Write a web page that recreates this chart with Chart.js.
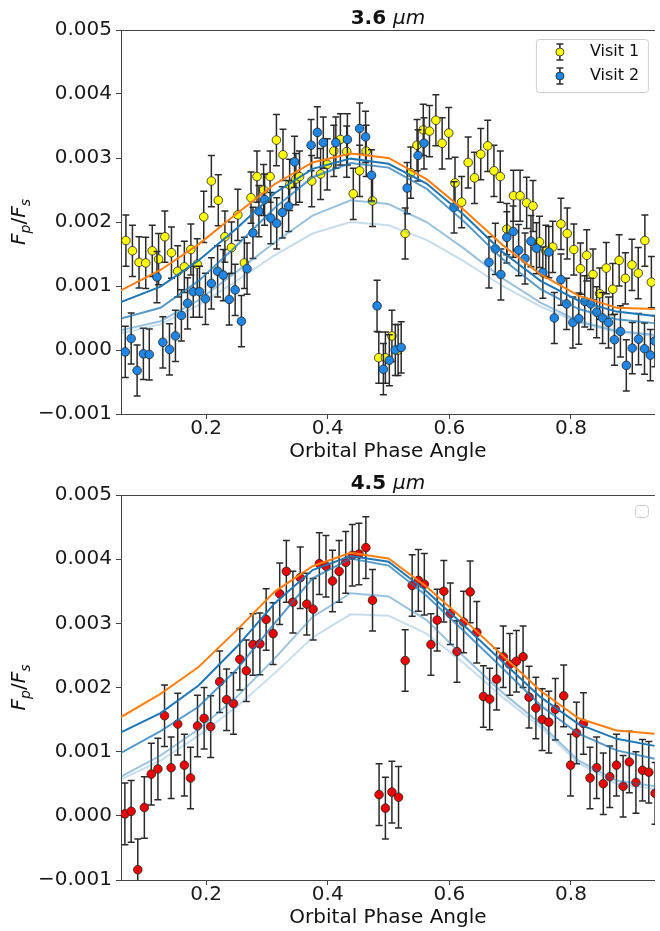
<!DOCTYPE html>
<html>
<head>
<meta charset="utf-8">
<script src="https://cdn.jsdelivr.net/npm/chart.js"></script>
<style>
  html, body { margin: 0; padding: 0; background: #fff; }
  body { width: 660px; height: 931px; overflow: hidden; }
  canvas { display: block; }
</style>
</head>
<body>
<canvas id="chart36" width="660" height="465"></canvas>
<canvas id="chart45" width="660" height="466"></canvas>
<script>
// tick values
const xTicks = [0.2, 0.4, 0.6, 0.8];
const yTicks = [-0.001, 0, 0.001, 0.002, 0.003, 0.004, 0.005];

// 3.6 um, visit 1 (yellow)
const v1Phase = [0.0681, 0.0788, 0.0897, 0.1007, 0.1114, 0.1218, 0.1321, 0.1430, 0.1533, 0.1642,
  0.1749, 0.1853, 0.1961, 0.2086, 0.2200, 0.2309, 0.2417, 0.2521, 0.2629, 0.2738,
  0.2836, 0.2945, 0.3052, 0.3156, 0.3264, 0.3373, 0.3476, 0.3536, 0.3736, 0.3882,
  0.3992, 0.4100, 0.4208, 0.4312, 0.4420, 0.4524, 0.4632, 0.4736, 0.4839, 0.4948,
  0.5055, 0.5157, 0.5273, 0.5365, 0.5468, 0.5571, 0.5673, 0.5778, 0.5881, 0.5990,
  0.6093, 0.6202, 0.6309, 0.6414, 0.6516, 0.6630, 0.6733, 0.6837, 0.6945, 0.7054,
  0.7163, 0.7271, 0.7375, 0.7482, 0.7586, 0.7700, 0.7835, 0.7938, 0.8047, 0.8156,
  0.8259, 0.8362, 0.8471, 0.8580, 0.8687, 0.8792, 0.8894, 0.9003, 0.9106, 0.9215, 0.9322];
const v1Flux = [0.00171, 0.00155, 0.00137, 0.00136, 0.00155, 0.00142, 0.00177, 0.00152, 0.00123, 0.00130,
  0.00157, 0.00134, 0.00208, 0.00264, 0.00234, 0.00177, 0.00160, 0.00211, 0.00136, 0.00238,
  0.00271, 0.00250, 0.00271, 0.00328, 0.00305, 0.00258, 0.00267, 0.00271, 0.00264, 0.00275,
  0.00290, 0.00311, 0.00329, 0.00310, 0.00244, 0.00280, 0.00311, 0.00233, -0.00012, -0.00012,
  0.00022, 0.00000, 0.00182, 0.00277, 0.00320, 0.00344, 0.00342, 0.00359, 0.00323, 0.00339,
  0.00261, 0.00231, 0.00293, 0.00269, 0.00306, 0.00319, 0.00280, 0.00271, 0.00189, 0.00241,
  0.00241, 0.00230, 0.00225, 0.00169, 0.00155, 0.00161, 0.00197, 0.00182, 0.00157, 0.00127,
  0.00148, 0.00118, 0.00088, 0.00128, 0.00095, 0.00140, 0.00112, 0.00133, 0.00120, 0.00171, 0.00106];

// 3.6 um, visit 2 (blue)
const v2Phase = [0.0670, 0.0767, 0.0865, 0.0968, 0.1065, 0.1191, 0.1288, 0.1397, 0.1495, 0.1593,
  0.1695, 0.1788, 0.1891, 0.1989, 0.2086, 0.2189, 0.2282, 0.2379, 0.2477, 0.2580,
  0.2673, 0.2770, 0.2868, 0.2961, 0.3064, 0.3161, 0.3254, 0.3357, 0.3454, 0.3726,
  0.3829, 0.3927, 0.4133, 0.4323, 0.4524, 0.4622, 0.4720, 0.4811, 0.4915, 0.5013,
  0.5111, 0.5208, 0.5306, 0.5485, 0.5583, 0.6077, 0.6651, 0.6756, 0.6847, 0.6945,
  0.7049, 0.7140, 0.7244, 0.7342, 0.7433, 0.7537, 0.7635, 0.7726, 0.7835, 0.7928,
  0.8031, 0.8129, 0.8226, 0.8324, 0.8422, 0.8520, 0.8617, 0.8715, 0.8813, 0.8910,
  0.9008, 0.9111, 0.9209, 0.9306, 0.9380];
const v2Flux = [-0.00003, 0.00018, -0.00032, -0.00006, -0.00007, 0.00114, 0.00012, 0.00001, 0.00022, 0.00054,
  0.00073, 0.00091, 0.00091, 0.00080, 0.00104, 0.00123, 0.00117, 0.00079, 0.00094, 0.00045,
  0.00127, 0.00183, 0.00217, 0.00235, 0.00206, 0.00198, 0.00215, 0.00225, 0.00294, 0.00320,
  0.00340, 0.00324, 0.00324, 0.00329, 0.00346, 0.00333, 0.00273, 0.00069, -0.00030, -0.00016,
  0.00000, 0.00004, 0.00253, 0.00304, 0.00323, 0.00223, 0.00137, 0.00158, 0.00118, 0.00176,
  0.00185, 0.00156, 0.00143, 0.00170, 0.00159, 0.00121, 0.00153, 0.00050, 0.00110, 0.00072,
  0.00043, 0.00049, 0.00076, 0.00072, 0.00059, 0.00050, 0.00043, 0.00016, 0.00029, -0.00024,
  0.00003, 0.00017, 0.00002, -0.00008, 0.00014];
const err36 = 0.0004;

// 4.5 um (red)
const redPhase = [0.0664, 0.0767, 0.0876, 0.0984, 0.1098, 0.1207, 0.1316, 0.1424, 0.1533, 0.1642,
  0.1744, 0.1858, 0.1967, 0.2075, 0.2222, 0.2336, 0.2449, 0.2554, 0.2661, 0.2770,
  0.2884, 0.2987, 0.3101, 0.3210, 0.3319, 0.3427, 0.3547, 0.3655, 0.3759, 0.3862,
  0.3971, 0.4078, 0.4187, 0.4296, 0.4404, 0.4513, 0.4627, 0.4736, 0.4844, 0.4948,
  0.5055, 0.5164, 0.5273, 0.5388, 0.5490, 0.5588, 0.5697, 0.5800, 0.5909, 0.6016,
  0.6125, 0.6234, 0.6342, 0.6451, 0.6560, 0.6663, 0.6777, 0.6886, 0.6994, 0.7103,
  0.7212, 0.7310, 0.7423, 0.7526, 0.7635, 0.7743, 0.7880, 0.7993, 0.8091, 0.8205,
  0.8313, 0.8422, 0.8531, 0.8638, 0.8748, 0.8857, 0.8959, 0.9068, 0.9176, 0.9280, 0.9383];
const redFlux = [0.00003, 0.00007, -0.00084, 0.00013, 0.00065, 0.00073, 0.00156, 0.00075, 0.00143, 0.00079,
  0.00059, 0.00140, 0.00152, 0.00139, 0.00209, 0.00181, 0.00175, 0.00244, 0.00226, 0.00267,
  0.00268, 0.00306, 0.00284, 0.00346, 0.00381, 0.00333, 0.00371, 0.00330, 0.00322, 0.00393,
  0.00389, 0.00366, 0.00381, 0.00395, 0.00406, 0.00408, 0.00418, 0.00336, 0.00033, 0.00012,
  0.00037, 0.00029, 0.00242, 0.00359, 0.00367, 0.00361, 0.00267, 0.00305, 0.00350, 0.00315,
  0.00256, 0.00302, 0.00349, 0.00286, 0.00186, 0.00182, 0.00213, 0.00248, 0.00236, 0.00241,
  0.00248, 0.00185, 0.00168, 0.00150, 0.00146, 0.00166, 0.00187, 0.00079, 0.00129, 0.00144,
  0.00059, 0.00075, 0.00050, 0.00061, 0.00079, 0.00046, 0.00084, 0.00052, 0.00071, 0.00068, 0.00035];
const err45 = 0.00048;

// model curves
const modelPhase = [0.06, 0.125, 0.1875, 0.25, 0.3125, 0.375, 0.4375, 0.5, 0.5625, 0.625, 0.6875, 0.75, 0.8125, 0.875, 0.9375];
const m36Orange = [0.00093, 0.00125, 0.00165, 0.00213, 0.00259, 0.00293, 0.00307, 0.00300, 0.00267, 0.00218, 0.00164, 0.00118, 0.00085, 0.00066, 0.00064];
const m36Blue1  = [0.00075, 0.00099, 0.00140, 0.00190, 0.00245, 0.00283, 0.00299, 0.00291, 0.00260, 0.00210, 0.00153, 0.00108, 0.00077, 0.00060, 0.00053];
const m36Blue2  = [0.00049, 0.00066, 0.00108, 0.00163, 0.00222, 0.00270, 0.00292, 0.00285, 0.00252, 0.00200, 0.00142, 0.00095, 0.00064, 0.00048, 0.00042];
const m36Blue3  = [0.00031, 0.00045, 0.00078, 0.00122, 0.00168, 0.00210, 0.00234, 0.00228, 0.00200, 0.00158, 0.00112, 0.00074, 0.00045, 0.00030, 0.00024];
const m36Blue4  = [0.00026, 0.00040, 0.00070, 0.00108, 0.00148, 0.00182, 0.00200, 0.00195, 0.00172, 0.00138, 0.00100, 0.00068, 0.00043, 0.00028, 0.00022];
const m45Orange = [0.00154, 0.00190, 0.00232, 0.00289, 0.00349, 0.00389, 0.00410, 0.00401, 0.00357, 0.00305, 0.00250, 0.00195, 0.00152, 0.00133, 0.00128];
const m45Blue1  = [0.00130, 0.00160, 0.00203, 0.00263, 0.00331, 0.00383, 0.00405, 0.00396, 0.00350, 0.00296, 0.00240, 0.00185, 0.00143, 0.00120, 0.00109];
const m45Blue2  = [0.00098, 0.00132, 0.00170, 0.00228, 0.00300, 0.00370, 0.00401, 0.00390, 0.00343, 0.00287, 0.00230, 0.00172, 0.00128, 0.00102, 0.00089];
const m45Blue3  = [0.00061, 0.00094, 0.00135, 0.00185, 0.00245, 0.00310, 0.00347, 0.00342, 0.00305, 0.00247, 0.00192, 0.00143, 0.00086, 0.00055, 0.00046];
const m45Blue4  = [0.00057, 0.00086, 0.00125, 0.00170, 0.00222, 0.00278, 0.00314, 0.00312, 0.00284, 0.00237, 0.00185, 0.00138, 0.00082, 0.00050, 0.00042];


Chart.defaults.font.family = "'DejaVu Sans', sans-serif";
Chart.defaults.color = '#1a1a1a';

const axisColor = '#444';
const modelColors = ['#ff7f0e', 'rgba(31,119,180,1)', 'rgba(31,119,180,0.75)', 'rgba(31,119,180,0.45)', 'rgba(31,119,180,0.25)'];

const toXY = (xs, ys) => xs.map((x, i) => ({x: x, y: ys[i]}));
const fmtY = v => (v < 0 ? '\u2212' : '') + Math.abs(v).toFixed(3);

function pointSet(label, xs, ys, err, color, order) {
    return {
        label: label,
        data: toXY(xs, ys),
        errorY: err,
        showLine: false,
        pointRadius: 4.3,
        pointBackgroundColor: color,
        pointBorderColor: '#222',
        pointBorderWidth: 0.8,
        order: order
    };
}

function modelSets(curves) {
    return curves.map((vals, k) => ({
        data: toXY(modelPhase, vals),
        showLine: true,
        borderColor: modelColors[k],
        borderWidth: 2,
        pointRadius: 0,
        tension: 0,
        order: k + 1
    }));
}

// error bars drawn just under each dataset's markers
const errorBars = {
    id: 'errorBars',
    beforeDatasetDraw(chart, args) {
        const ds = chart.data.datasets[args.index];
        if (!ds.errorY) return;
        const {ctx, chartArea: a, scales: {x, y}} = chart;
        ctx.save();
        ctx.beginPath();
        ctx.rect(a.left, a.top, a.width, a.height);
        ctx.clip();
        ctx.strokeStyle = '#2a2a2a';
        ctx.lineWidth = 1.5;
        ds.data.forEach(p => {
            const px = x.getPixelForValue(p.x);
            const hi = y.getPixelForValue(p.y + ds.errorY);
            const lo = y.getPixelForValue(p.y - ds.errorY);
            ctx.beginPath();
            ctx.moveTo(px, hi); ctx.lineTo(px, lo);
            ctx.moveTo(px - 3.5, hi); ctx.lineTo(px + 3.5, hi);
            ctx.moveTo(px - 3.5, lo); ctx.lineTo(px + 3.5, lo);
            ctx.stroke();
        });
        ctx.restore();
    }
};

// top spine, title, axis labels and legend box
const decor = {
    id: 'decor',
    afterDraw(chart, args, opts) {
        const {ctx, chartArea: a} = chart;
        const cx = (a.left + a.right) / 2;
        ctx.save();

        ctx.strokeStyle = axisColor;
        ctx.lineWidth = 1;
        ctx.beginPath();
        ctx.moveTo(a.left, a.top + 0.5);
        ctx.lineTo(a.right, a.top + 0.5);
        ctx.stroke();

        ctx.fillStyle = '#111';
        ctx.textBaseline = 'alphabetic';
        ctx.textAlign = 'left';
        const fb = 'bold 20px "DejaVu Sans"';
        const fi = 'italic 20px "DejaVu Sans"';
        ctx.font = fb;
        const w1 = ctx.measureText(opts.title[0] + ' ').width;
        ctx.font = fi;
        const w2 = ctx.measureText(opts.title[1]).width;
        const tx = cx - (w1 + w2) / 2;
        ctx.font = fb;
        ctx.fillText(opts.title[0] + ' ', tx, a.top - 6);
        ctx.font = fi;
        ctx.fillText(opts.title[1], tx + w1, a.top - 6);

        ctx.font = '20px "DejaVu Sans"';
        ctx.textAlign = 'center';
        ctx.textBaseline = 'middle';
        ctx.fillText('Orbital Phase Angle', cx, a.bottom + 38);

        // y label F_p/F_s
        const parts = [['F', 'italic 20px', 0], ['p', 'italic 14px', 5], ['/', '20px', 0], ['F', 'italic 20px', 0], ['s', 'italic 14px', 5]];
        ctx.save();
        ctx.translate(18, (a.top + a.bottom) / 2);
        ctx.rotate(-Math.PI / 2);
        ctx.textAlign = 'left';
        ctx.textBaseline = 'alphabetic';
        let total = 0;
        parts.forEach(p => { ctx.font = p[1] + ' "DejaVu Sans"'; total += ctx.measureText(p[0]).width; });
        let lx = -total / 2;
        parts.forEach(p => {
            ctx.font = p[1] + ' "DejaVu Sans"';
            ctx.fillText(p[0], lx, 7 + p[2]);
            lx += ctx.measureText(p[0]).width;
        });
        ctx.restore();

        // legend frame
        const lg = opts.legend;
        const bx = a.right - 7 - lg.w, by = a.top + lg.dy;
        ctx.fillStyle = 'rgba(255,255,255,0.8)';
        ctx.strokeStyle = '#cccccc';
        ctx.lineWidth = 1;
        ctx.beginPath();
        ctx.roundRect(bx + 0.5, by + 0.5, lg.w, lg.h, 3);
        ctx.fill();
        ctx.stroke();
        lg.items.forEach((it, i) => {
            const my = by + 13 + i * 24, mx = bx + 24;
            ctx.strokeStyle = '#2a2a2a';
            ctx.lineWidth = 1.5;
            ctx.beginPath();
            ctx.moveTo(mx, my - 8); ctx.lineTo(mx, my + 8);
            ctx.moveTo(mx - 3.5, my - 8); ctx.lineTo(mx + 3.5, my - 8);
            ctx.moveTo(mx - 3.5, my + 8); ctx.lineTo(mx + 3.5, my + 8);
            ctx.stroke();
            ctx.beginPath();
            ctx.arc(mx, my, 4, 0, Math.PI * 2);
            ctx.fillStyle = it.color;
            ctx.fill();
            ctx.lineWidth = 0.8;
            ctx.strokeStyle = '#222';
            ctx.stroke();
            ctx.fillStyle = '#111';
            ctx.font = '16px "DejaVu Sans"';
            ctx.textAlign = 'left';
            ctx.textBaseline = 'middle';
            ctx.fillText(it.label, bx + 54, my);
        });
        ctx.restore();
    }
};

function makeChart(id, datasets, decorOpts) {
    return new Chart(document.getElementById(id), {
        type: 'scatter',
        data: {datasets: datasets},
        options: {
            responsive: false,
            animation: false,
            events: [],
            devicePixelRatio: 1,
            layout: {padding: {top: 30, left: 0, right: 0, bottom: 0}},
            plugins: {legend: {display: false}, tooltip: {enabled: false}, decor: decorOpts},
            scales: {
                x: {
                    type: 'linear',
                    min: 0.06,
                    max: 0.938,
                    afterBuildTicks: s => { s.ticks = xTicks.map(v => ({value: v})); },
                    afterFit: s => { s.height = 51; },
                    grid: {drawOnChartArea: false, tickLength: 5, color: axisColor},
                    border: {display: true, color: axisColor, width: 1},
                    ticks: {font: {size: 20, lineHeight: 1}, padding: 0, color: '#1a1a1a', callback: v => v.toFixed(1)}
                },
                y: {
                    min: -0.001,
                    max: 0.005,
                    afterBuildTicks: s => { s.ticks = yTicks.map(v => ({value: v})); },
                    afterFit: s => { s.width = 121; },
                    grid: {drawOnChartArea: false, tickLength: 5, color: axisColor},
                    border: {display: true, color: axisColor, width: 1},
                    ticks: {font: {size: 20, lineHeight: 1}, padding: 4, color: '#1a1a1a', callback: fmtY}
                }
            }
        },
        plugins: [errorBars, decor]
    });
}

makeChart('chart36',
    modelSets([m36Orange, m36Blue1, m36Blue2, m36Blue3, m36Blue4]).concat([
        pointSet('Visit 2', v2Phase, v2Flux, err36, '#1e86e6', 10),
        pointSet('Visit 1', v1Phase, v1Flux, err36, '#ffff00', 11)
    ]),
    {title: ['3.6', '\u03bcm'], legend: {w: 112, h: 53, dy: 9, items: [{label: 'Visit 1', color: '#ffff00'}, {label: 'Visit 2', color: '#1e86e6'}]}}
);

makeChart('chart45',
    modelSets([m45Orange, m45Blue1, m45Blue2, m45Blue3, m45Blue4]).concat([
        pointSet('4.5', redPhase, redFlux, err45, '#ee0000', 10)
    ]),
    {title: ['4.5', '\u03bcm'], legend: {w: 13, h: 12, dy: 10, items: []}}
);
</script>
</body>
</html>
